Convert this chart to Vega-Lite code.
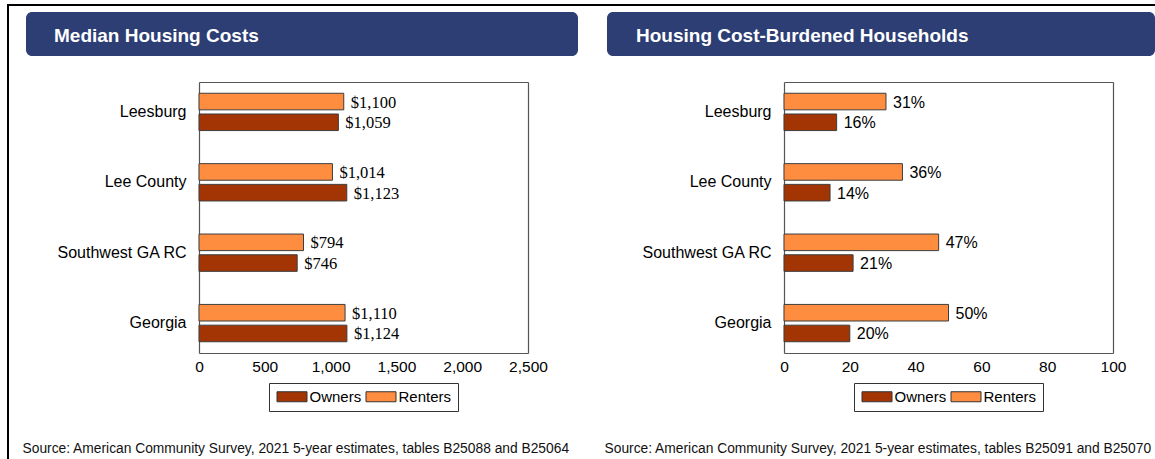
{
  "$schema": "https://vega.github.io/schema/vega-lite/v6.json",
  "background": "white",
  "padding": {"left": 7, "top": 4, "right": 0, "bottom": 0},
  "spacing": 0,
  "resolve": {"scale": {"color": "independent"}, "legend": {"color": "independent"}},
  "config": {
    "view": {"stroke": null},
    "font": "Liberation Sans"
  },
  "hconcat": [
    {"data": {"values": []}, "mark": "point", "width": 2, "height": 455, "view": {"fill": "#000000", "stroke": null}},
    {
      "spacing": 6,
      "resolve": {"scale": {"color": "independent"}, "legend": {"color": "independent"}},
      "vconcat": [
        {"data": {"values": []}, "mark": "point", "width": 1146, "height": 2, "view": {"fill": "#000000", "stroke": null}},
        {
          "spacing": 0,
          "resolve": {"scale": {"color": "independent"}, "legend": {"color": "independent"}},
          "hconcat": [
            {"data": {"values": []}, "mark": "point", "width": 13, "height": 0.001},
            {
              "spacing": 26,
              "resolve": {"scale": {"color": "independent"}, "legend": {"color": "independent"}},
              "vconcat": [
                {
                  "data": {"values": [{"t": "Median Housing Costs"}]},
                  "width": 552, "height": 44,
                  "view": {"fill": "#2c3e74", "stroke": null, "cornerRadius": 6},
                  "mark": {"type": "text", "align": "left", "baseline": "middle", "dx": -248, "dy": 2, "font": "Liberation Sans", "fontWeight": "bold", "fontSize": 19, "color": "white"},
                  "encoding": {"text": {"field": "t", "type": "nominal"}}
                },
                {
                  "width": 502, "height": 271,
                  "data": {"values": [
                    {"area": "Leesburg", "tenure": "Renters", "value": 1100},
                    {"area": "Leesburg", "tenure": "Owners", "value": 1059},
                    {"area": "Lee County", "tenure": "Renters", "value": 1014},
                    {"area": "Lee County", "tenure": "Owners", "value": 1123},
                    {"area": "Southwest GA RC", "tenure": "Renters", "value": 794},
                    {"area": "Southwest GA RC", "tenure": "Owners", "value": 746},
                    {"area": "Georgia", "tenure": "Renters", "value": 1110},
                    {"area": "Georgia", "tenure": "Owners", "value": 1124}
                  ]},
                  "resolve": {"axis": {"x": "independent", "y": "independent"}},
                  "layer": [
                    {
                      "mark": {"type": "bar", "stroke": "#3d3d3d", "strokeWidth": 1},
                      "encoding": {
                        "y": {"field": "area", "type": "nominal", "sort": ["Leesburg", "Lee County", "Southwest GA RC", "Georgia"],
                              "scale": {"paddingInner": 0.47, "paddingOuter": 0.16},
                              "axis": {"orient": "left", "offset": -173, "title": null, "ticks": false, "domain": true, "domainColor": "#555555", "domainWidth": 1.2, "labelFont": "Liberation Sans", "labelFontSize": 16, "labelColor": "black", "labelPadding": 13}},
                        "yOffset": {"field": "tenure", "type": "nominal", "sort": ["Renters", "Owners"], "scale": {"paddingInner": 0.2, "paddingOuter": 0}},
                        "x": {"field": "value", "type": "quantitative", "scale": {"domain": [0, 2500], "nice": false, "range": [173, 502]},
                              "axis": {"orient": "bottom", "values": [0, 500, 1000, 1500, 2000, 2500], "format": ",.0f", "grid": false, "ticks": false, "domain": true, "domainColor": "#555555", "domainWidth": 1.2, "labelFlush": false, "labelFont": "Liberation Sans", "labelFontSize": 15.5, "labelColor": "black", "labelPadding": 6,
                                       "title": "Source: American Community Survey, 2021 5-year estimates, tables B25088 and B25064",
                                       "titleX": -4, "titleY": 95, "titleAlign": "left", "titleBaseline": "middle", "titleFont": "Liberation Sans", "titleFontSize": 13.8, "titleFontWeight": "normal", "titleColor": "#111111"}},
                        "color": {"field": "tenure", "type": "nominal",
                          "scale": {"domain": ["Owners", "Renters"], "range": ["#a33403", "#ff8d3f"]},
                          "legend": {"title": null, "orient": "none", "legendX": 243, "legendY": 301, "direction": "horizontal",
                            "strokeColor": "#333333", "fillColor": "white", "padding": 6,
                            "symbolType": "M-3,-1H3V1H-3Z", "symbolSize": 100, "symbolOffset": 9.5, "symbolStrokeColor": "#333333", "symbolStrokeWidth": 1, "symbolOpacity": 1,
                            "labelFont": "Liberation Sans", "labelFontSize": 15, "labelColor": "black", "labelOffset": 10, "columnPadding": 2}}
                      }
                    },
                    {
                      "mark": {"type": "text", "align": "left", "baseline": "middle", "dx": 7, "dy": 1, "font": "Liberation Serif", "fontSize": 16.5, "color": "black"},
                      "encoding": {
                        "y": {"field": "area", "type": "nominal", "sort": ["Leesburg", "Lee County", "Southwest GA RC", "Georgia"], "axis": null},
                        "yOffset": {"field": "tenure", "type": "nominal", "sort": ["Renters", "Owners"]},
                        "x": {"field": "value", "type": "quantitative", "axis": null},
                        "text": {"field": "value", "type": "quantitative", "format": "$,.0f"}
                      }
                    },
                    {
                      "mark": {"type": "point", "opacity": 0},
                      "encoding": {
                        "y": {"field": "area", "type": "nominal", "sort": ["Leesburg", "Lee County", "Southwest GA RC", "Georgia"],
                              "axis": {"orient": "right", "title": null, "labels": false, "ticks": false, "domain": true, "domainColor": "#555555", "domainWidth": 1.2}},
                        "x": {"field": "value", "type": "quantitative",
                              "axis": {"orient": "top", "title": null, "labels": false, "ticks": false, "grid": false, "domain": true, "domainColor": "#555555", "domainWidth": 1.2}}
                      }
                    }
                  ]
                }
              ]
            },
            {"data": {"values": []}, "mark": "point", "width": 26, "height": 0.001},
            {
              "spacing": 26,
              "resolve": {"scale": {"color": "independent"}, "legend": {"color": "independent"}},
              "vconcat": [
                {
                  "data": {"values": [{"t": "Housing Cost-Burdened Households"}]},
                  "width": 548, "height": 44,
                  "view": {"fill": "#2c3e74", "stroke": null, "cornerRadius": 6},
                  "mark": {"type": "text", "align": "left", "baseline": "middle", "dx": -245, "dy": 2, "font": "Liberation Sans", "fontWeight": "bold", "fontSize": 19, "color": "white"},
                  "encoding": {"text": {"field": "t", "type": "nominal"}}
                },
                {
                  "width": 506, "height": 271,
                  "data": {"values": [
                    {"area": "Leesburg", "tenure": "Renters", "value": 31, "label": "31%"},
                    {"area": "Leesburg", "tenure": "Owners", "value": 16, "label": "16%"},
                    {"area": "Lee County", "tenure": "Renters", "value": 36, "label": "36%"},
                    {"area": "Lee County", "tenure": "Owners", "value": 14, "label": "14%"},
                    {"area": "Southwest GA RC", "tenure": "Renters", "value": 47, "label": "47%"},
                    {"area": "Southwest GA RC", "tenure": "Owners", "value": 21, "label": "21%"},
                    {"area": "Georgia", "tenure": "Renters", "value": 50, "label": "50%"},
                    {"area": "Georgia", "tenure": "Owners", "value": 20, "label": "20%"}
                  ]},
                  "resolve": {"axis": {"x": "independent", "y": "independent"}},
                  "layer": [
                    {
                      "mark": {"type": "bar", "stroke": "#3d3d3d", "strokeWidth": 1},
                      "encoding": {
                        "y": {"field": "area", "type": "nominal", "sort": ["Leesburg", "Lee County", "Southwest GA RC", "Georgia"],
                              "scale": {"paddingInner": 0.47, "paddingOuter": 0.16},
                              "axis": {"orient": "left", "offset": -177, "title": null, "ticks": false, "domain": true, "domainColor": "#555555", "domainWidth": 1.2, "labelFont": "Liberation Sans", "labelFontSize": 16, "labelColor": "black", "labelPadding": 13}},
                        "yOffset": {"field": "tenure", "type": "nominal", "sort": ["Renters", "Owners"], "scale": {"paddingInner": 0.2, "paddingOuter": 0}},
                        "x": {"field": "value", "type": "quantitative", "scale": {"domain": [0, 100], "nice": false, "range": [177, 506]},
                              "axis": {"orient": "bottom", "values": [0, 20, 40, 60, 80, 100], "format": "d", "grid": false, "ticks": false, "domain": true, "domainColor": "#555555", "domainWidth": 1.2, "labelFlush": false, "labelFont": "Liberation Sans", "labelFontSize": 15.5, "labelColor": "black", "labelPadding": 6,
                                       "title": "Source: American Community Survey, 2021 5-year estimates, tables B25091 and B25070",
                                       "titleX": -3, "titleY": 95, "titleAlign": "left", "titleBaseline": "middle", "titleFont": "Liberation Sans", "titleFontSize": 13.8, "titleFontWeight": "normal", "titleColor": "#111111"}},
                        "color": {"field": "tenure", "type": "nominal",
                          "scale": {"domain": ["Owners", "Renters"], "range": ["#a33403", "#ff8d3f"]},
                          "legend": {"title": null, "orient": "none", "legendX": 247, "legendY": 301, "direction": "horizontal",
                            "strokeColor": "#333333", "fillColor": "white", "padding": 6,
                            "symbolType": "M-3,-1H3V1H-3Z", "symbolSize": 100, "symbolOffset": 9.5, "symbolStrokeColor": "#333333", "symbolStrokeWidth": 1, "symbolOpacity": 1,
                            "labelFont": "Liberation Sans", "labelFontSize": 15, "labelColor": "black", "labelOffset": 10, "columnPadding": 2}}
                      }
                    },
                    {
                      "mark": {"type": "text", "align": "left", "baseline": "middle", "dx": 7, "dy": 1, "font": "Liberation Sans", "fontSize": 16, "color": "black"},
                      "encoding": {
                        "y": {"field": "area", "type": "nominal", "sort": ["Leesburg", "Lee County", "Southwest GA RC", "Georgia"], "axis": null},
                        "yOffset": {"field": "tenure", "type": "nominal", "sort": ["Renters", "Owners"]},
                        "x": {"field": "value", "type": "quantitative", "axis": null},
                        "text": {"field": "label", "type": "nominal"}
                      }
                    },
                    {
                      "mark": {"type": "point", "opacity": 0},
                      "encoding": {
                        "y": {"field": "area", "type": "nominal", "sort": ["Leesburg", "Lee County", "Southwest GA RC", "Georgia"],
                              "axis": {"orient": "right", "title": null, "labels": false, "ticks": false, "domain": true, "domainColor": "#555555", "domainWidth": 1.2}},
                        "x": {"field": "value", "type": "quantitative",
                              "axis": {"orient": "top", "title": null, "labels": false, "ticks": false, "grid": false, "domain": true, "domainColor": "#555555", "domainWidth": 1.2}}
                      }
                    }
                  ]
                }
              ]
            }
          ]
        }
      ]
    }
  ]
}
